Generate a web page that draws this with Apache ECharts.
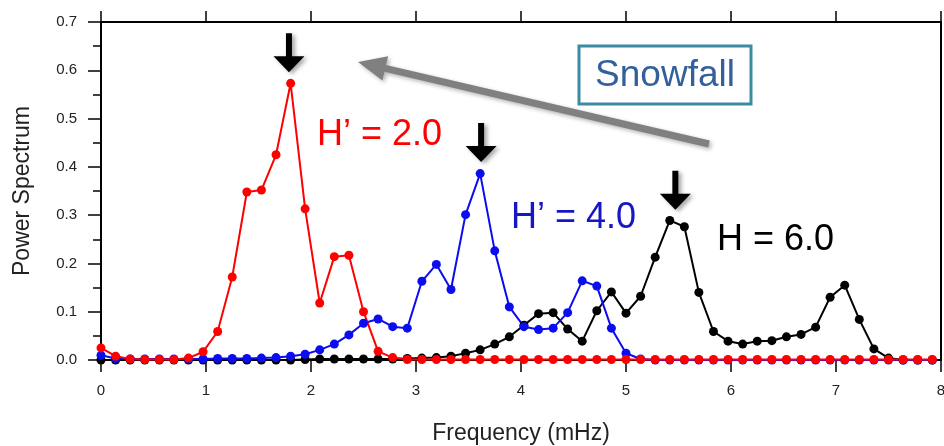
<!DOCTYPE html>
<html>
<head>
<meta charset="utf-8">
<script src="https://cdn.jsdelivr.net/npm/echarts@6/dist/echarts.min.js"></script>
<style>
  html, body { margin: 0; padding: 0; background: #ffffff; }
  #chart { width: 944px; height: 446px; }
</style>
</head>
<body>
<div id="chart"></div>
<script>
// Spectral bins (mHz), 2-hour window resolution
const frequency = [
  0.000, 0.139, 0.278, 0.417, 0.556, 0.694, 0.833, 0.972, 1.111, 1.250,
  1.389, 1.528, 1.667, 1.806, 1.944, 2.083, 2.222, 2.361, 2.500, 2.639,
  2.778, 2.917, 3.056, 3.194, 3.333, 3.472, 3.611, 3.750, 3.889, 4.028,
  4.167, 4.306, 4.444, 4.583, 4.722, 4.861, 5.000, 5.139, 5.278, 5.417,
  5.556, 5.694, 5.833, 5.972, 6.111, 6.250, 6.389, 6.528, 6.667, 6.806,
  6.944, 7.083, 7.222, 7.361, 7.500, 7.639, 7.778, 7.917
];

// Power spectrum for H' = 2.0
const powerH2 = [
  0.025, 0.008, 0.002, 0.001, 0.001, 0.001, 0.004, 0.017, 0.059, 0.172,
  0.348, 0.352, 0.425, 0.573, 0.313, 0.118, 0.214, 0.217, 0.100, 0.018,
  0.005, 0.001, 0.001, 0.001, 0.001, 0.001, 0.001, 0.001, 0.001, 0.001,
  0.001, 0.001, 0.001, 0.001, 0.001, 0.001, 0.001, 0.001, 0.001, 0.001,
  0.001, 0.001, 0.001, 0.001, 0.001, 0.001, 0.001, 0.001, 0.001, 0.001,
  0.001, 0.001, 0.001, 0.001, 0.001, 0.001, 0.001, 0.001
];

// Power spectrum for H' = 4.0
const powerH4 = [
  0.010, 0.003, 0.002, 0.002, 0.002, 0.002, 0.002, 0.002, 0.003, 0.003,
  0.003, 0.004, 0.005, 0.008, 0.012, 0.021, 0.033, 0.052, 0.076, 0.085,
  0.069, 0.066, 0.163, 0.198, 0.146, 0.301, 0.386, 0.226, 0.110, 0.069,
  0.063, 0.066, 0.098, 0.164, 0.153, 0.066, 0.014, 0.002, 0.000, 0.000,
  0.000, 0.000, 0.000, 0.000, 0.000, 0.000, 0.000, 0.000, 0.000, 0.000,
  0.000, 0.000, 0.000, 0.000, 0.000, 0.000, 0.000, 0.000
];

// Power spectrum for H = 6.0
const powerH6 = [
  0.000, 0.000, 0.000, 0.000, 0.000, 0.000, 0.000, 0.000, 0.000, 0.000,
  0.000, 0.000, 0.000, 0.000, 0.001, 0.002, 0.002, 0.002, 0.002, 0.002,
  0.002, 0.003, 0.004, 0.005, 0.008, 0.014, 0.021, 0.033, 0.048, 0.072,
  0.096, 0.098, 0.064, 0.039, 0.102, 0.141, 0.097, 0.132, 0.213, 0.289,
  0.276, 0.140, 0.059, 0.039, 0.033, 0.039, 0.040, 0.048, 0.053, 0.068,
  0.130, 0.155, 0.084, 0.023, 0.004, 0.000, 0.000, 0.000
];

const seriesLabels = ['H’ = 2.0', 'H’ = 4.0', 'H = 6.0'];
const seriesColors = ['#ff0000', '#0c0cf0', '#000000'];
const labelColors = ['#ff0000', '#1616c4', '#000000'];
const xAxisTitle = 'Frequency (mHz)';
const yAxisTitle = 'Power Spectrum';
const boxText = 'Snowfall';

// Peak markers: [frequency, power] where each arrow tip points
const peakArrowAt = [[1.79, 0.596], [3.62, 0.410], [5.47, 0.311]];

const pairs = (ys) => frequency.map((f, i) => [f, ys[i]]);

const chart = echarts.init(document.getElementById('chart'), null, { renderer: 'canvas' });

const axisFont = 'Liberation Sans, Arial, Helvetica, sans-serif';

function lineSeries(name, ys, color) {
  return {
    name: name,
    type: 'line',
    data: pairs(ys),
    symbol: 'circle',
    symbolSize: 9,
    showSymbol: true,
    clip: true,
    lineStyle: { color: color, width: 2 },
    itemStyle: { color: color },
    emphasis: { disabled: true }
  };
}

chart.setOption({
  animation: false,
  backgroundColor: '#ffffff',
  grid: {
    left: 101, right: 3, top: 22, bottom: 86,
    outerBoundsMode: 'none', containLabel: false,
    show: true, borderColor: '#000', borderWidth: 2, backgroundColor: 'transparent'
  },
  xAxis: [
    {
      type: 'value', min: 0, max: 8, interval: 1, position: 'bottom',
      axisLine: { show: true, onZero: false, lineStyle: { color: '#000', width: 2 } },
      axisTick: { show: true, inside: false, length: 12, lineStyle: { color: '#000', width: 1.5 } },
      axisLabel: { margin: 23, fontSize: 15, color: '#222', fontFamily: axisFont },
      splitLine: { show: false },
      name: xAxisTitle, nameLocation: 'middle', nameGap: 62,
      nameTextStyle: { fontSize: 23, color: '#222', fontFamily: axisFont }
    },
    {
      type: 'value', min: 0, max: 8, interval: 1, position: 'top',
      axisLine: { show: true, onZero: false, lineStyle: { color: '#000', width: 2 } },
      axisTick: { show: true, inside: false, length: 11, lineStyle: { color: '#000', width: 1.5 } },
      axisLabel: { show: false },
      splitLine: { show: false }
    }
  ],
  yAxis: [
    {
      type: 'value', min: 0, max: 0.7, interval: 0.1, position: 'left',
      axisLine: { show: true, onZero: false, lineStyle: { color: '#000', width: 2 } },
      axisTick: { show: true, inside: false, length: 13, lineStyle: { color: '#000', width: 1.5 } },
      minorTick: { show: true, splitNumber: 2, length: 8, lineStyle: { color: '#000', width: 1.5 } },
      axisLabel: {
        margin: 24, fontSize: 15, color: '#222', fontFamily: axisFont,
        formatter: (v) => v.toFixed(1)
      },
      splitLine: { show: false },
      minorSplitLine: { show: false },
      name: yAxisTitle, nameLocation: 'middle', nameGap: 67, nameRotate: 90,
      nameTextStyle: { fontSize: 23, color: '#222', fontFamily: axisFont }
    },
    {
      type: 'value', min: 0, max: 0.7, interval: 0.1, position: 'right',
      axisLine: { show: true, onZero: false, lineStyle: { color: '#000', width: 2 } },
      axisTick: { show: false },
      axisLabel: { show: false },
      splitLine: { show: false }
    }
  ],
  series: [
    lineSeries(seriesLabels[2], powerH6, seriesColors[2]),
    lineSeries(seriesLabels[1], powerH4, seriesColors[1]),
    lineSeries(seriesLabels[0], powerH2, seriesColors[0])
  ]
});

// Annotation layer: peak arrows, curve labels, trend arrow and box
function downArrow(tx, ty) {
  return {
    type: 'polygon',
    shape: {
      points: [
        [tx - 3, ty - 39], [tx + 3, ty - 39], [tx + 3, ty - 16], [tx + 15.5, ty - 16],
        [tx, ty], [tx - 15.5, ty - 16], [tx - 3, ty - 16]
      ]
    },
    style: {
      fill: '#000',
      shadowBlur: 4, shadowOffsetX: 3, shadowOffsetY: 2, shadowColor: 'rgba(0,0,0,0.35)'
    },
    z: 100
  };
}

function trendArrow(tail, tip, halfShaft, headLen, halfHead) {
  const dx = tip[0] - tail[0], dy = tip[1] - tail[1];
  const len = Math.hypot(dx, dy);
  const ux = dx / len, uy = dy / len;
  const nx = -uy, ny = ux;
  const bx = tip[0] - ux * headLen, by = tip[1] - uy * headLen;
  return {
    type: 'polygon',
    shape: {
      points: [
        [tail[0] + nx * halfShaft, tail[1] + ny * halfShaft],
        [bx + nx * halfShaft, by + ny * halfShaft],
        [bx + nx * halfHead, by + ny * halfHead],
        tip,
        [bx - nx * halfHead, by - ny * halfHead],
        [bx - nx * halfShaft, by - ny * halfShaft],
        [tail[0] - nx * halfShaft, tail[1] - ny * halfShaft]
      ]
    },
    style: {
      fill: '#808080',
      shadowBlur: 4, shadowOffsetX: 2, shadowOffsetY: 2, shadowColor: 'rgba(0,0,0,0.3)'
    },
    z: 90
  };
}

function curveLabel(text, x, y, color) {
  return {
    type: 'text', x: x, y: y, z: 100,
    style: {
      text: text, fill: color, fontSize: 36,
      fontFamily: 'Liberation Sans, Arial, sans-serif',
      align: 'left', verticalAlign: 'middle'
    }
  };
}

const graphics = [];
peakArrowAt.forEach(([f, v]) => {
  const p = chart.convertToPixel({ xAxisIndex: 0, yAxisIndex: 0 }, [f, v]);
  graphics.push(downArrow(p[0], p[1]));
});
graphics.push(curveLabel(seriesLabels[0], 317, 135, labelColors[0]));
graphics.push(curveLabel(seriesLabels[1], 511, 218, labelColors[1]));
graphics.push(curveLabel(seriesLabels[2], 717, 240, labelColors[2]));
graphics.push(trendArrow([709, 144], [358, 62], 3.5, 28, 12.5));
graphics.push({
  type: 'rect', z: 95,
  shape: { x: 579, y: 46, width: 172, height: 58 },
  style: { fill: '#ffffff', stroke: '#3a8ca0', lineWidth: 3 }
});
graphics.push({
  type: 'text', x: 665, y: 76, z: 96,
  style: {
    text: boxText, fill: '#33609a', fontSize: 37,
    fontFamily: 'Liberation Sans, Arial, sans-serif',
    align: 'center', verticalAlign: 'middle'
  }
});

chart.setOption({ graphic: graphics });
</script>
</body>
</html>
